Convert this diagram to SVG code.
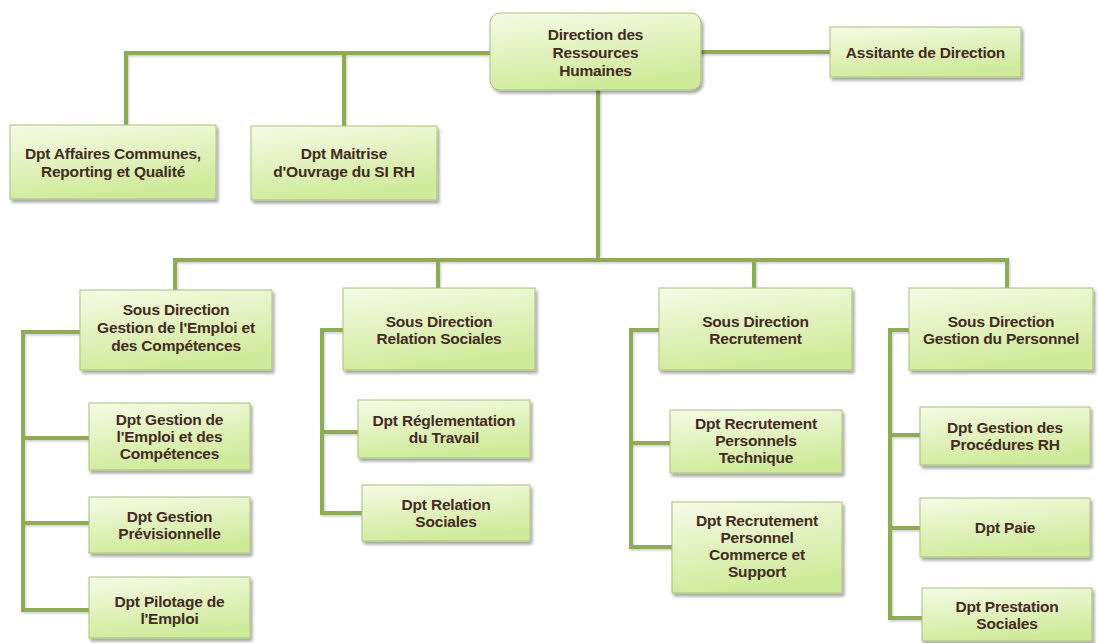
<svg xmlns="http://www.w3.org/2000/svg" width="1098" height="643" viewBox="0 0 1098 643">
  <defs>
    <linearGradient id="boxFill" x1="0" y1="0" x2="0.3" y2="1">
      <stop offset="0" stop-color="#f6fbe6"/>
      <stop offset="1" stop-color="#d0ea9b"/>
    </linearGradient>
    <filter id="shadow" x="-10%" y="-10%" width="125%" height="135%">
      <feDropShadow dx="2" dy="3" stdDeviation="1.8" flood-color="#000" flood-opacity="0.35"/>
    </filter>
    <filter id="lineShadow" x="-5%" y="-5%" width="110%" height="110%">
      <feDropShadow dx="1" dy="1.5" stdDeviation="1" flood-color="#000" flood-opacity="0.2"/>
    </filter>
  </defs>
  <style>
    .box { fill: url(#boxFill); stroke: #a9c07e; stroke-width: 1; filter: url(#shadow); }
    .lbl { font-family: "Liberation Sans", Arial, sans-serif; font-weight: bold; font-size: 15.5px; fill: #432b22; text-anchor: middle; letter-spacing: -0.2px; }
    .conn { fill: none; stroke: #8eab55; stroke-width: 4; stroke-linejoin: miter; stroke-linecap: square; }
  </style>
  <rect width="1098" height="643" fill="#ffffff"/>

  <!-- connectors -->
  <g id="connectors" class="conn" filter="url(#lineShadow)">
    <path d="M490,53 H126 V125"/>
    <path d="M344,53 V126"/>
    <path d="M701,52 H830"/>
    <path d="M598,90 V260"/>
    <path d="M175,290 V260 H1007 V288"/>
    <path d="M438,260 V288"/>
    <path d="M754,260 V288"/>
    <!-- column 1 -->
    <path d="M80,332 H23 V610 H89"/>
    <path d="M23,438 H89"/>
    <path d="M23,523 H89"/>
    <!-- column 2 -->
    <path d="M343,330 H322 V513 H362"/>
    <path d="M322,432 H358"/>
    <!-- column 3 -->
    <path d="M659,330 H631 V547 H672"/>
    <path d="M631,443 H670"/>
    <!-- column 4 -->
    <path d="M909,330 H890 V618 H922"/>
    <path d="M890,435 H920"/>
    <path d="M890,528 H920"/>
  </g>

  <!-- top level -->
  <g id="drh">
    <rect class="box" x="490" y="13" width="211" height="77" rx="10"/>
    <text class="lbl" x="595.5" y="40">Direction des</text>
    <text class="lbl" x="595.5" y="58">Ressources</text>
    <text class="lbl" x="595.5" y="76">Humaines</text>
  </g>
  <g id="assistante">
    <rect class="box" x="830" y="27" width="191" height="50"/>
    <text class="lbl" x="925.5" y="58">Assitante de Direction</text>
  </g>
  <g id="dpt-affaires">
    <rect class="box" x="10" y="125" width="206" height="74"/>
    <text class="lbl" x="113" y="159">Dpt Affaires Communes,</text>
    <text class="lbl" x="113" y="177">Reporting et Qualité</text>
  </g>
  <g id="dpt-moa">
    <rect class="box" x="251" y="126" width="186" height="74"/>
    <text class="lbl" x="344" y="159">Dpt Maitrise</text>
    <text class="lbl" x="344" y="177">d'Ouvrage du SI RH</text>
  </g>

  <!-- sous directions -->
  <g id="sd-gec">
    <rect class="box" x="80" y="290" width="192" height="80"/>
    <text class="lbl" x="176" y="315">Sous Direction</text>
    <text class="lbl" x="176" y="333">Gestion de l'Emploi et</text>
    <text class="lbl" x="176" y="351">des Compétences</text>
  </g>
  <g id="sd-rs">
    <rect class="box" x="343" y="288" width="192" height="82"/>
    <text class="lbl" x="439" y="327">Sous Direction</text>
    <text class="lbl" x="439" y="344">Relation Sociales</text>
  </g>
  <g id="sd-rec">
    <rect class="box" x="659" y="288" width="193" height="82"/>
    <text class="lbl" x="755.5" y="327">Sous Direction</text>
    <text class="lbl" x="755.5" y="344">Recrutement</text>
  </g>
  <g id="sd-gp">
    <rect class="box" x="909" y="288" width="184" height="82"/>
    <text class="lbl" x="1001" y="327">Sous Direction</text>
    <text class="lbl" x="1001" y="344">Gestion du Personnel</text>
  </g>

  <!-- column 1 departments -->
  <g id="dpt-gec">
    <rect class="box" x="89" y="403" width="161" height="67"/>
    <text class="lbl" x="169.5" y="425">Dpt Gestion de</text>
    <text class="lbl" x="169.5" y="442">l'Emploi et des</text>
    <text class="lbl" x="169.5" y="459">Compétences</text>
  </g>
  <g id="dpt-prev">
    <rect class="box" x="89" y="497" width="161" height="56"/>
    <text class="lbl" x="169.5" y="522">Dpt Gestion</text>
    <text class="lbl" x="169.5" y="539">Prévisionnelle</text>
  </g>
  <g id="dpt-pilotage">
    <rect class="box" x="89" y="577" width="161" height="61"/>
    <text class="lbl" x="169.5" y="607">Dpt Pilotage de</text>
    <text class="lbl" x="169.5" y="624">l'Emploi</text>
  </g>

  <!-- column 2 departments -->
  <g id="dpt-reglementation">
    <rect class="box" x="358" y="400" width="172" height="58"/>
    <text class="lbl" x="444" y="426">Dpt Réglementation</text>
    <text class="lbl" x="444" y="443">du Travail</text>
  </g>
  <g id="dpt-relation">
    <rect class="box" x="362" y="485" width="168" height="56"/>
    <text class="lbl" x="446" y="510">Dpt Relation</text>
    <text class="lbl" x="446" y="527">Sociales</text>
  </g>

  <!-- column 3 departments -->
  <g id="dpt-rec-tech">
    <rect class="box" x="670" y="410" width="172" height="63"/>
    <text class="lbl" x="756" y="429">Dpt Recrutement</text>
    <text class="lbl" x="756" y="446">Personnels</text>
    <text class="lbl" x="756" y="463">Technique</text>
  </g>
  <g id="dpt-rec-commerce">
    <rect class="box" x="672" y="502" width="170" height="91"/>
    <text class="lbl" x="757" y="526">Dpt Recrutement</text>
    <text class="lbl" x="757" y="543">Personnel</text>
    <text class="lbl" x="757" y="560">Commerce et</text>
    <text class="lbl" x="757" y="577">Support</text>
  </g>

  <!-- column 4 departments -->
  <g id="dpt-procedures">
    <rect class="box" x="920" y="407" width="170" height="58"/>
    <text class="lbl" x="1005" y="433">Dpt Gestion des</text>
    <text class="lbl" x="1005" y="450">Procédures RH</text>
  </g>
  <g id="dpt-paie">
    <rect class="box" x="920" y="498" width="170" height="59"/>
    <text class="lbl" x="1005" y="533">Dpt Paie</text>
  </g>
  <g id="dpt-prestation">
    <rect class="box" x="922" y="588" width="170" height="53"/>
    <text class="lbl" x="1007" y="612">Dpt Prestation</text>
    <text class="lbl" x="1007" y="629">Sociales</text>
  </g>
</svg>
